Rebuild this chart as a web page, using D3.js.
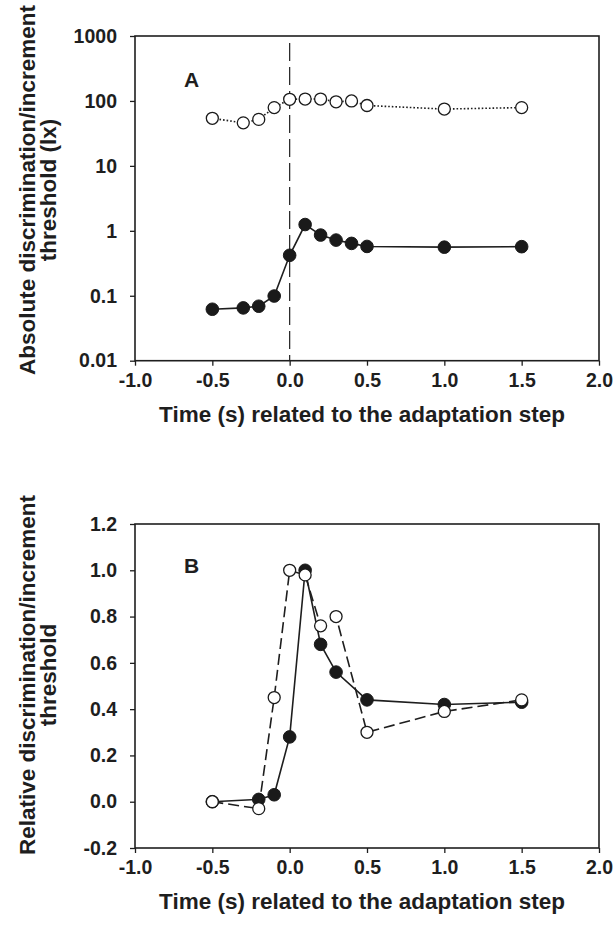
<!DOCTYPE html>
<html><head><meta charset="utf-8">
<script src="https://cdn.jsdelivr.net/npm/d3@7"></script>
<style>body{margin:0;background:#fff}svg{display:block}text{font-family:"Liberation Sans",Arial,sans-serif;font-weight:bold;fill:#1e1e1e}</style>
</head><body><svg id="c" width="616" height="929"></svg>
<script>
const timeA = [-0.5,-0.3,-0.2,-0.1,0,0.1,0.2,0.3,0.4,0.5,1.0,1.5];
const absOpen = [54,46,52,79,106,107,107,97,100,85,75,79];
const absFilled = [0.062,0.065,0.069,0.099,0.42,1.25,0.86,0.72,0.64,0.575,0.56,0.57];
const timeB = [-0.5,-0.2,-0.1,0,0.1,0.2,0.3,0.5,1.0,1.5];
const relFilled = [0.0,0.01,0.03,0.28,1.0,0.68,0.56,0.44,0.42,0.43];
const relOpen = [0.0,-0.03,0.45,1.0,0.98,0.76,0.80,0.30,0.39,0.44];
const xTicks = [-1.0,-0.5,0.0,0.5,1.0,1.5,2.0];
const yTicksA = [0.01,0.1,1,10,100,1000];
const yTicksB = [-0.2,0.0,0.2,0.4,0.6,0.8,1.0,1.2];

const svg = d3.select("#c");
const L=135, R=599;
const x = d3.scaleLinear().domain([-1,2]).range([L,R]);
const f1 = d => d.toFixed(1);
const TICKFS = 19.5, TITLEFS = 22.5;

function styleAxis(a){
  a.select(".domain").remove();
  a.selectAll("text").attr("font-size",TICKFS).attr("fill","#1e1e1e")
    .style("font-family","Liberation Sans, Arial, sans-serif").style("font-weight","bold");
  a.selectAll("line").attr("stroke","#1e1e1e").attr("stroke-width",1.3);
}

function frame(y, top, bottom, yticks, yfmt, ytitle1, ytitle2, titleCy, letter, letterY){
  const g = svg.append("g");
  g.append("g").attr("transform",`translate(0,${bottom})`)
    .call(d3.axisBottom(x).tickValues(xTicks).tickSize(5).tickPadding(7).tickFormat(f1))
    .call(styleAxis);
  g.append("g").attr("transform",`translate(${L},0)`)
    .call(d3.axisLeft(y).tickValues(yticks).tickSize(5).tickPadding(13).tickFormat(yfmt))
    .call(styleAxis);
  g.append("rect").attr("x",L).attr("y",top).attr("width",R-L).attr("height",bottom-top)
    .attr("fill","none").attr("stroke","#1e1e1e").attr("stroke-width",1.6);
  g.append("text").attr("x",362).attr("y",bottom+61).attr("text-anchor","middle")
    .attr("font-size",TITLEFS).text("Time (s) related to the adaptation step");
  g.append("text").attr("transform",`translate(35,${titleCy}) rotate(-90)`).attr("text-anchor","middle")
    .attr("font-size",TITLEFS).text(ytitle1);
  g.append("text").attr("transform",`translate(56,${titleCy}) rotate(-90)`).attr("text-anchor","middle")
    .attr("font-size",TITLEFS).text(ytitle2);
  g.append("text").attr("x",191.5).attr("y",letterY).attr("text-anchor","middle").attr("font-size",21).text(letter);
}

// Panel A
const topA=36, botA=360.7;
const yA = d3.scaleLog().domain([0.01,1000]).range([botA,topA]);
frame(yA, topA, botA, yTicksA, d=>String(d), "Absolute discrimination/increment", "threshold (lx)", 190, "A", 87);
svg.append("line").attr("x1",x(0)).attr("x2",x(0)).attr("y1",43).attr("y2",botA)
  .attr("stroke","#1e1e1e").attr("stroke-width",1.2).attr("stroke-dasharray","18,6");
const lineA = d3.line().x((d,i)=>x(timeA[i])).y(d=>yA(d));
svg.append("path").attr("d",lineA(absFilled)).attr("fill","none").attr("stroke","#1e1e1e").attr("stroke-width",1.6);
svg.append("path").attr("d",lineA(absOpen)).attr("fill","none").attr("stroke","#1e1e1e").attr("stroke-width",1.6).attr("stroke-dasharray","1.6,2");
svg.append("g").selectAll("circle").data(absFilled).join("circle")
  .attr("cx",(d,i)=>x(timeA[i])).attr("cy",d=>yA(d)).attr("r",6.3).attr("fill","#1a1a1a").attr("stroke","#1a1a1a").attr("stroke-width",1);
svg.append("g").selectAll("circle").data(absOpen).join("circle")
  .attr("cx",(d,i)=>x(timeA[i])).attr("cy",d=>yA(d)).attr("r",6).attr("fill","#fff").attr("stroke","#1a1a1a").attr("stroke-width",1.3);

// Panel B
const topB=524, botB=848;
const yB = d3.scaleLinear().domain([-0.2,1.2]).range([botB,topB]);
frame(yB, topB, botB, yTicksB, f1, "Relative discrimination/increment", "threshold", 675, "B", 573);
const lineB = d3.line().x((d,i)=>x(timeB[i])).y(d=>yB(d));
svg.append("path").attr("d",lineB(relFilled)).attr("fill","none").attr("stroke","#1e1e1e").attr("stroke-width",1.6);
svg.append("g").selectAll("circle").data(relFilled).join("circle")
  .attr("cx",(d,i)=>x(timeB[i])).attr("cy",d=>yB(d)).attr("r",6.3).attr("fill","#1a1a1a").attr("stroke","#1a1a1a").attr("stroke-width",1);
svg.append("path").attr("d",lineB(relOpen)).attr("fill","none").attr("stroke","#1e1e1e").attr("stroke-width",1.6).attr("stroke-dasharray","11,5");
svg.append("g").selectAll("circle").data(relOpen).join("circle")
  .attr("cx",(d,i)=>x(timeB[i])).attr("cy",d=>yB(d)).attr("r",6).attr("fill","#fff").attr("stroke","#1a1a1a").attr("stroke-width",1.3);
</script></body></html>
